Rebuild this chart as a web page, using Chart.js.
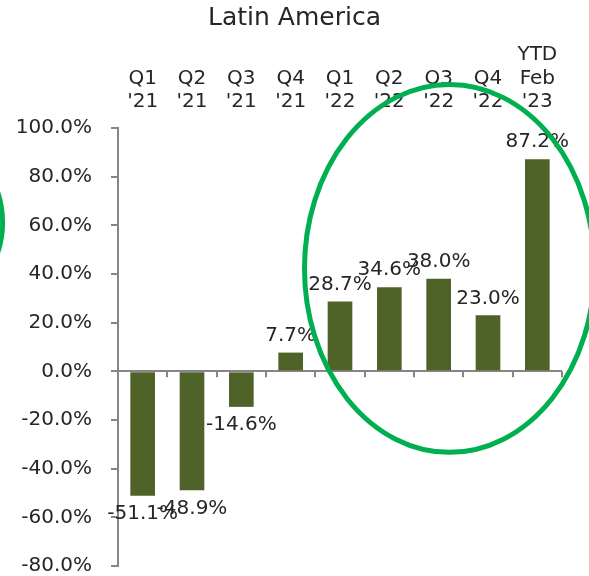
<!DOCTYPE html>
<html><head><meta charset="utf-8">
<script src="https://cdn.jsdelivr.net/npm/chart.js@4"></script>
<style>html,body{margin:0;padding:0;background:#fff;} #wrap{width:589px;height:576px;position:relative;}</style>
</head><body><div id="wrap"><canvas id="c"></canvas></div>
<script>
const chartTitle = "Latin America";
const categories = [["Q1","'21"],["Q2","'21"],["Q3","'21"],["Q4","'21"],["Q1","'22"],["Q2","'22"],["Q3","'22"],["Q4","'22"],["YTD","Feb","'23"]];
const growth = [-51.1, -48.9, -14.6, 7.7, 28.7, 34.6, 38.0, 23.0, 87.2];
const yMin = -80, yMax = 100, yStep = 20;

const FONT = "'DejaVu Sans', Verdana, sans-serif";
const TEXT = '#262626';
const AXIS = '#868686';
const BAR = '#4F6228';
const RING = '#00B050';

// highlight rings, expressed in category-index / value units
const rings = [
  {cx: 6.22, cy: 42.3, rx: 2.94, ry: 75.6},
  {cx: -4.52, cy: 61.2, rx: 1.68, ry: 37.0}
];

const overlay = {
  id: 'overlay',
  afterDatasetsDraw(chart) {
    const ctx = chart.ctx, x = chart.scales.x, y = chart.scales.y;
    const meta = chart.getDatasetMeta(0);
    const y0 = y.getPixelForValue(0);
    const n = categories.length;
    const catW = x.width / n;
    ctx.save();
    ctx.strokeStyle = AXIS; ctx.lineWidth = 2;
    ctx.beginPath();
    for (let i = 1; i <= n; i++) {
      const bx = Math.round(x.left + i * catW);
      ctx.moveTo(bx, y0); ctx.lineTo(bx, y0 + 6);
    }
    ctx.stroke();
    ctx.fillStyle = TEXT;
    ctx.font = "20px " + FONT;
    ctx.textAlign = 'center'; ctx.textBaseline = 'middle';
    meta.data.forEach((bar, i) => {
      const v = growth[i];
      const ty = v >= 0 ? bar.y - 17 : bar.y + 18;
      ctx.fillText(v.toFixed(1) + '%', bar.x, ty);
    });
    ctx.restore();
  },
  afterDraw(chart) {
    const ctx = chart.ctx, x = chart.scales.x, y = chart.scales.y;
    const catW = x.width / categories.length;
    ctx.save();
    ctx.fillStyle = TEXT;
    ctx.font = "25px " + FONT;
    ctx.textAlign = 'center'; ctx.textBaseline = 'middle';
    ctx.fillText(chartTitle, chart.width / 2, 18);
    ctx.strokeStyle = RING; ctx.lineWidth = 5;
    rings.forEach(r => {
      const cx = x.getPixelForValue(0) + r.cx * catW;
      const cy = y.getPixelForValue(r.cy);
      const ry = Math.abs(y.getPixelForValue(r.ry) - y.getPixelForValue(0));
      ctx.beginPath();
      ctx.ellipse(cx, cy, r.rx * catW, ry, 0, 0, Math.PI * 2);
      ctx.stroke();
    });
    ctx.restore();
  }
};

new Chart(document.getElementById('c'), {
  type: 'bar',
  data: {
    labels: categories,
    datasets: [{
      data: growth,
      backgroundColor: BAR,
      borderWidth: 0,
      barPercentage: 0.5,
      categoryPercentage: 1.0
    }]
  },
  options: {
    responsive: true,
    maintainAspectRatio: false,
    animation: false,
    layout: {padding: {top: 0, left: 0, right: 27, bottom: 10}},
    plugins: {legend: {display: false}, title: {display: false}, tooltip: {enabled: false}},
    scales: {
      x: {
        position: 'top',
        grid: {display: false, drawTicks: false},
        border: {display: false},
        ticks: {color: TEXT, font: {family: FONT, size: 20, lineHeight: 1.175}, padding: 14, maxRotation: 0, autoSkip: false},
        afterFit(s) { s.height = 128; }
      },
      y: {
        min: yMin, max: yMax,
        grid: {
          drawOnChartArea: true,
          color: c => (c.tick && c.tick.value === 0) ? AXIS : 'rgba(0,0,0,0)',
          lineWidth: 2,
          tickColor: AXIS,
          tickWidth: 2,
          tickLength: 7
        },
        border: {display: true, color: AXIS, width: 2},
        ticks: {
          stepSize: yStep,
          color: TEXT,
          font: {family: FONT, size: 20, lineHeight: 1.1},
          padding: 19,
          callback: v => Number(v).toFixed(1) + '%'
        },
        afterFit(s) { s.width = 118; s.paddingTop = 8; s.paddingBottom = 8; }
      }
    }
  },
  plugins: [overlay]
});
</script>
</body></html>
